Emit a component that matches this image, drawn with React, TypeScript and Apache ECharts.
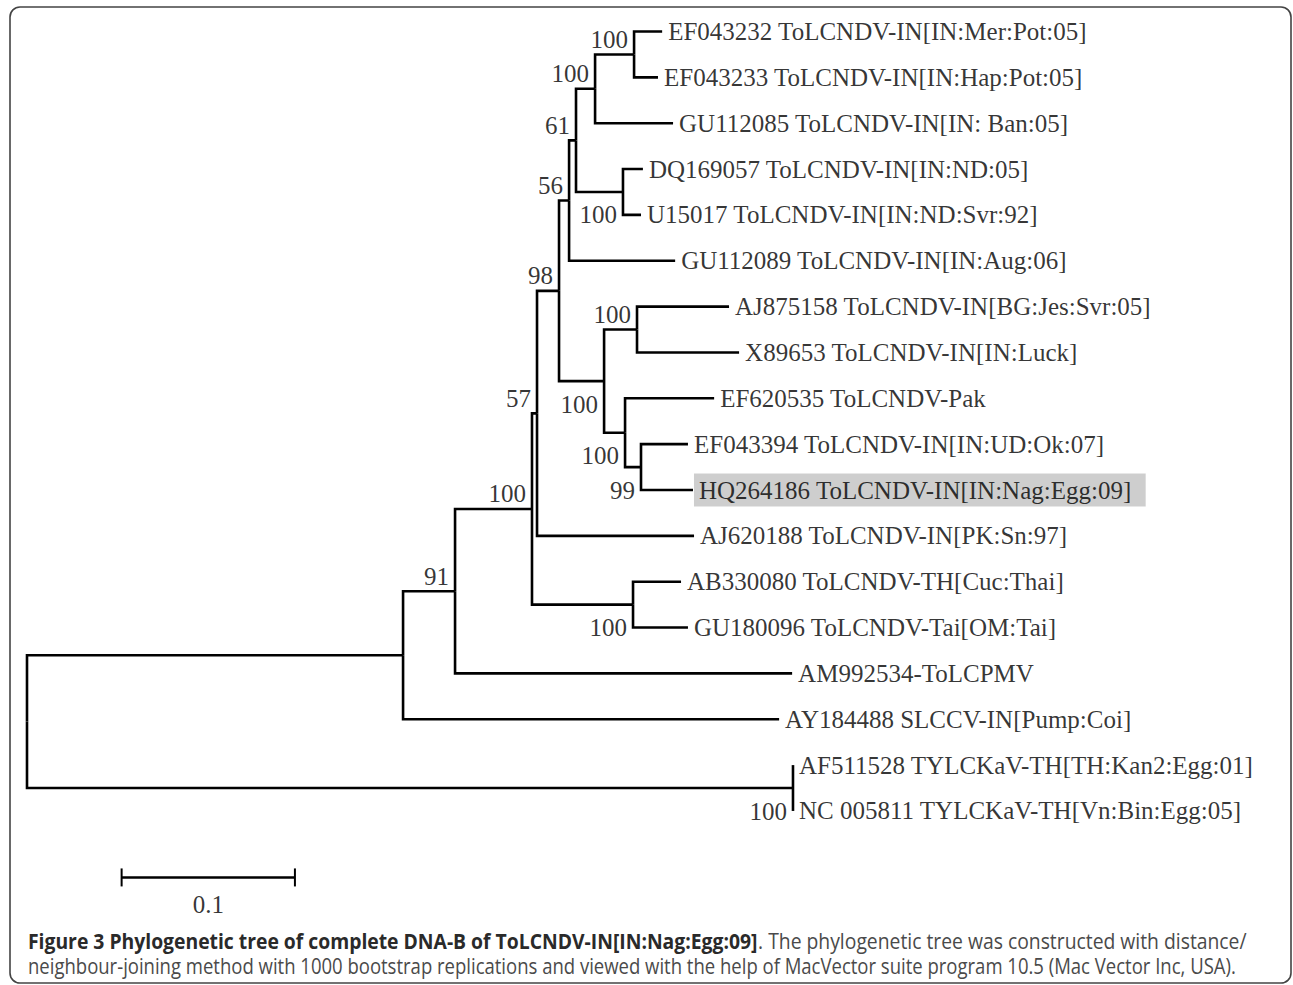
import React, { useEffect, useRef } from 'react';
import * as echarts from 'echarts';

// ---------- data ----------
const leafNames = [
  'EF043232 ToLCNDV-IN[IN:Mer:Pot:05]',
  'EF043233 ToLCNDV-IN[IN:Hap:Pot:05]',
  'GU112085 ToLCNDV-IN[IN: Ban:05]',
  'DQ169057 ToLCNDV-IN[IN:ND:05]',
  'U15017 ToLCNDV-IN[IN:ND:Svr:92]',
  'GU112089 ToLCNDV-IN[IN:Aug:06]',
  'AJ875158 ToLCNDV-IN[BG:Jes:Svr:05]',
  'X89653 ToLCNDV-IN[IN:Luck]',
  'EF620535 ToLCNDV-Pak',
  'EF043394 ToLCNDV-IN[IN:UD:Ok:07]',
  'HQ264186 ToLCNDV-IN[IN:Nag:Egg:09]',
  'AJ620188 ToLCNDV-IN[PK:Sn:97]',
  'AB330080 ToLCNDV-TH[Cuc:Thai]',
  'GU180096 ToLCNDV-Tai[OM:Tai]',
  'AM992534-ToLCPMV',
  'AY184488 SLCCV-IN[Pump:Coi]',
  'AF511528 TYLCKaV-TH[TH:Kan2:Egg:01]',
  'NC 005811 TYLCKaV-TH[Vn:Bin:Egg:05]',
];
const leafParents = ['A', 'A', 'B', 'C', 'C', 'E', 'I', 'I', 'J', 'K', 'K', 'G', 'M', 'M', 'N', 'O', 'P', 'P'];
const leafBranchLengths = [
  0.0162, 0.0138, 0.045, 0.0115, 0.0104, 0.0612, 0.0531, 0.0589, 0.0514,
  0.0271, 0.03, 0.0906, 0.0277, 0.0317, 0.1945, 0.217, 0, 0,
];

const nodeNames = ['root', 'O', 'N', 'L', 'G', 'F', 'E', 'D', 'B', 'A', 'C', 'H', 'I', 'J', 'K', 'M', 'P'];
const nodeParents = [null, 'root', 'O', 'N', 'L', 'G', 'F', 'E', 'D', 'B', 'D', 'F', 'H', 'H', 'J', 'L', 'root'];
const nodeBranchLengths = [
  0, 0.217, 0.03, 0.0444, 0.0029, 0.0127, 0.0058, 0.004, 0.011, 0.0225,
  0.0271, 0.026, 0.019, 0.0121, 0.0092, 0.0583, 0.442,
];
const nodeSupport = [null, null, 91, 100, 57, 98, 56, 61, 100, 100, 100, 100, 100, 100, 99, 100, 100];
const supportBelow = ['C', 'H', 'J', 'K', 'M', 'P'];
const highlightedLeaf = 'HQ264186 ToLCNDV-IN[IN:Nag:Egg:09]';

const scaleBarLength = 0.1;
const scaleBarLabel = '0.1';

const captionBold = 'Figure 3 Phylogenetic tree of complete DNA-B of ToLCNDV-IN[IN:Nag:Egg:09]';
const captionRest1 = '. The phylogenetic tree was constructed with distance/';
const captionLine2 =
  'neighbour-joining method with 1000 bootstrap replications and viewed with the help of MacVector suite program 10.5 (Mac Vector Inc, USA).';

// ---------- layout helpers ----------
function layoutTree() {
  const parent: Record<string, string | null> = {};
  const branch: Record<string, number> = {};
  const children: Record<string, string[]> = {};
  const leafIndex: Record<string, number> = {};
  nodeNames.forEach((n, i) => {
    parent[n] = nodeParents[i];
    branch[n] = nodeBranchLengths[i];
    children[n] = children[n] || [];
  });
  leafNames.forEach((_, i) => {
    const id = 'leaf' + i;
    parent[id] = leafParents[i];
    branch[id] = leafBranchLengths[i];
    leafIndex[id] = i;
  });
  Object.keys(parent).forEach((id) => {
    const p = parent[id];
    if (p) (children[p] = children[p] || []).push(id);
  });
  const xs: Record<string, number> = {};
  const ys: Record<string, number> = {};
  const getX = (id: string): number => {
    if (xs[id] !== undefined) return xs[id];
    const p = parent[id];
    xs[id] = p ? getX(p) + branch[id] : 0;
    return xs[id];
  };
  const getY = (id: string): number => {
    if (ys[id] !== undefined) return ys[id];
    if (leafIndex[id] !== undefined) {
      ys[id] = leafIndex[id];
    } else {
      const cy = children[id].map(getY);
      ys[id] = (Math.min(...cy) + Math.max(...cy)) / 2;
    }
    return ys[id];
  };
  Object.keys(parent).forEach((id) => {
    getX(id);
    getY(id);
  });
  return { parent, children, xs, ys };
}

const PX_PER_UNIT = 1733;
const ROW_PX = 45.85;
const X_MAX = 0.72;
const Y_MAX = 20;

export default function App() {
  const ref = useRef<HTMLDivElement>(null);

  useEffect(() => {
    if (!ref.current) return;
    const chart = echarts.init(ref.current, undefined, { renderer: 'svg' });
    const { parent, xs, ys } = layoutTree();

    const branches: number[][] = [];
    Object.keys(parent).forEach((id) => {
      const p = parent[id];
      if (!p) return;
      branches.push([xs[p], ys[p], ys[id], xs[id]]);
    });

    const leafData = leafNames.map((name, i) => {
      const id = 'leaf' + i;
      const item: any = { name, value: [xs[id], ys[id]] };
      if (name === highlightedLeaf) {
        item.label = {
          backgroundColor: '#c2c2c2',
          padding: [4, 14, 4, 5],
          distance: 1,
          lineHeight: 25,
        };
      }
      return item;
    });

    const supportData: any[] = [];
    nodeNames.forEach((n, i) => {
      const s = nodeSupport[i];
      if (s === null) return;
      const below = supportBelow.indexOf(n) >= 0;
      supportData.push({
        name: String(s),
        value: [xs[n], ys[n]],
        label: { offset: below ? [0, 23] : [0, -15] },
      });
    });

    // scale bar row and start (placement)
    const scaleStart = 0.0546;
    const scaleRow = 18.45;
    const scaleLabelRow = 19.04;

    // caption measurement
    const cv = document.createElement('canvas').getContext('2d')!;
    const capFont = 'Open Sans';
    const capSize = 21;
    cv.font = `bold ${capSize}px "${capFont}"`;
    const wB = cv.measureText(captionBold).width;
    cv.font = `${capSize}px "${capFont}"`;
    const wR = cv.measureText(captionRest1).width;
    const w2 = cv.measureText(captionLine2).width;
    const capLeft = 28;
    const s1 = (1247 - capLeft) / (wB + wR);
    const s2 = (1237 - capLeft) / w2;

    const serif = 'Liberation Serif, "Times New Roman", serif';

    chart.setOption({
      animation: false,
      backgroundColor: '#ffffff',
      grid: {
        left: 27,
        top: 31.5,
        width: X_MAX * PX_PER_UNIT,
        height: Y_MAX * ROW_PX,
        containLabel: false,
      },
      xAxis: { type: 'value', min: 0, max: X_MAX, show: false },
      yAxis: { type: 'value', min: 0, max: Y_MAX, inverse: true, show: false },
      series: [
        {
          type: 'custom',
          name: 'branches',
          clip: false,
          encode: { x: [0, 3], y: [1, 2] },
          data: branches,
          renderItem: (_params: any, api: any) => {
            const p0 = api.coord([api.value(0), api.value(1)]);
            const p1 = api.coord([api.value(0), api.value(2)]);
            const p2 = api.coord([api.value(3), api.value(2)]);
            return {
              type: 'polyline',
              shape: { points: [p0, p1, p2] },
              style: { stroke: '#000', lineWidth: 2.6, fill: null, lineJoin: 'miter', lineCap: 'butt' },
            };
          },
        },
        {
          type: 'custom',
          name: 'scalebar',
          clip: false,
          encode: { x: [0, 2], y: 1 },
          data: [[scaleStart, scaleRow, scaleStart + scaleBarLength]],
          renderItem: (_params: any, api: any) => {
            const a = api.coord([api.value(0), api.value(1)]);
            const b = api.coord([api.value(2), api.value(1)]);
            const st = { stroke: '#000', lineWidth: 2.6 };
            return {
              type: 'group',
              children: [
                { type: 'line', shape: { x1: a[0], y1: a[1], x2: b[0], y2: b[1] }, style: st },
                { type: 'line', shape: { x1: a[0], y1: a[1] - 9, x2: a[0], y2: a[1] + 9 }, style: { stroke: '#000', lineWidth: 2 } },
                { type: 'line', shape: { x1: b[0], y1: b[1] - 9, x2: b[0], y2: b[1] + 9 }, style: { stroke: '#000', lineWidth: 2 } },
              ],
            };
          },
        },
        {
          type: 'scatter',
          name: 'leaves',
          symbolSize: 0,
          data: leafData,
          label: {
            show: true,
            position: 'right',
            distance: 6,
            formatter: '{b}',
            fontFamily: serif,
            fontSize: 25,
            color: '#000',
          },
          silent: true,
        },
        {
          type: 'scatter',
          name: 'support',
          symbolSize: 0,
          data: supportData,
          label: {
            show: true,
            position: 'left',
            distance: 6,
            formatter: '{b}',
            fontFamily: serif,
            fontSize: 25,
            color: '#000',
          },
          silent: true,
        },
        {
          type: 'scatter',
          name: 'scaleLabel',
          symbolSize: 0,
          data: [{ name: scaleBarLabel, value: [scaleStart + scaleBarLength / 2, scaleLabelRow] }],
          label: {
            show: true,
            position: 'inside',
            formatter: '{b}',
            fontFamily: serif,
            fontSize: 25,
            color: '#000',
          },
          silent: true,
        },
      ],
      graphic: [
        {
          type: 'rect',
          shape: { x: 10, y: 7, width: 1281, height: 976, r: 10 },
          style: { fill: 'none', stroke: '#444', lineWidth: 1.6 },
          silent: true,
        },
        {
          type: 'text',
          x: capLeft,
          y: 941,
          scaleX: s1,
          style: {
            text: captionBold,
            fill: '#2a2a2a',
            fontSize: capSize,
            fontWeight: 'bold',
            fontFamily: capFont,
            verticalAlign: 'middle',
          },
        },
        {
          type: 'text',
          x: capLeft + wB * s1,
          y: 941,
          scaleX: s1,
          style: {
            text: captionRest1,
            fill: '#4a4a4a',
            fontSize: capSize,
            fontFamily: capFont,
            verticalAlign: 'middle',
          },
        },
        {
          type: 'text',
          x: capLeft,
          y: 966,
          scaleX: s2,
          style: {
            text: captionLine2,
            fill: '#4a4a4a',
            fontSize: capSize,
            fontFamily: capFont,
            verticalAlign: 'middle',
          },
        },
      ],
    });

    return () => chart.dispose();
  }, []);

  return (
    <div
      ref={ref}
      style={{ position: 'fixed', left: 0, top: 0, width: 1293, height: 985, background: '#fff' }}
    />
  );
}
